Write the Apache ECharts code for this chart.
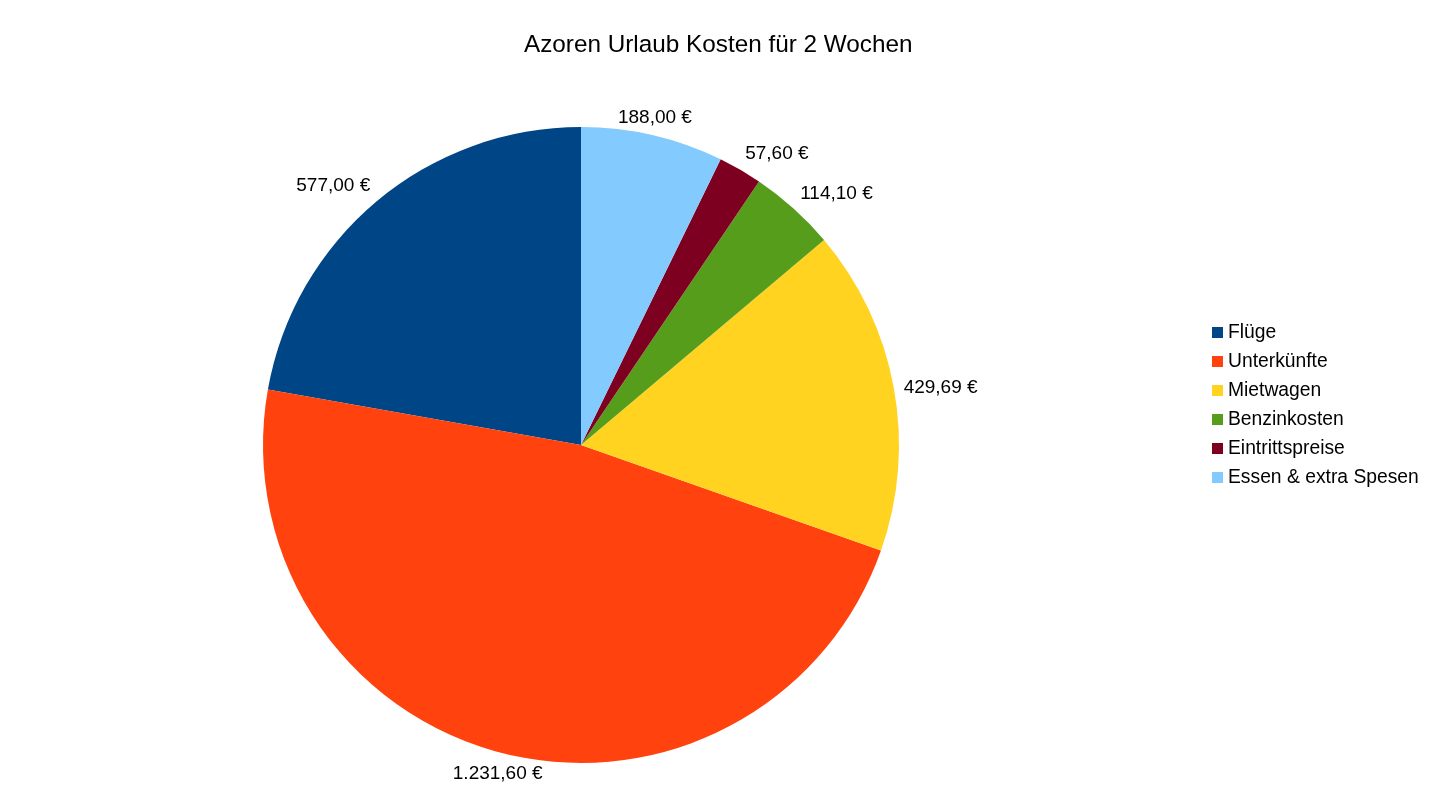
<!DOCTYPE html>
<html>
<head>
<meta charset="utf-8">
<script src="https://cdn.jsdelivr.net/npm/echarts@6/dist/echarts.min.js"></script>
<style>
html,body{margin:0;padding:0;background:#fff;}
#chart{width:1445px;height:810px;}
</style>
</head>
<body>
<div id="chart"></div>
<script>
var titleText = 'Azoren Urlaub Kosten für 2 Wochen';
var categories = ['Flüge', 'Unterkünfte', 'Mietwagen', 'Benzinkosten', 'Eintrittspreise', 'Essen & extra Spesen'];
var values = [577.00, 1231.60, 429.69, 114.10, 57.60, 188.00];
var colors = ['#004586', '#ff420e', '#ffd320', '#579d1c', '#7e0021', '#83caff'];

function fmtEuro(v) {
  var parts = v.toFixed(2).split('.');
  var intPart = parts[0].replace(/\B(?=(\d{3})+(?!\d))/g, '.');
  return intPart + ',' + parts[1] + ' €';
}

var FONT = '"Liberation Sans", Arial, sans-serif';
var chart = echarts.init(document.getElementById('chart'), null, {renderer: 'canvas'});
chart.setOption({
  animation: false,
  backgroundColor: '#ffffff',
  title: {
    text: titleText,
    left: 524,
    top: 33,
    padding: 0,
    textStyle: {fontFamily: FONT, fontSize: 24.3, fontWeight: 'normal', color: '#000'}
  },
  legend: {
    orient: 'vertical',
    left: 1212,
    top: 323,
    padding: 0,
    itemWidth: 11,
    itemHeight: 11,
    itemGap: 10,
    icon: 'rect',
    textStyle: {fontFamily: FONT, fontSize: 19.3, color: '#000', padding: [0, 0, 0, 0]},
    data: categories
  },
  series: [{
    type: 'pie',
    center: [581, 445],
    radius: [0, 318],
    startAngle: 90,
    clockwise: false,
    avoidLabelOverlap: false,
    color: colors,
    itemStyle: {borderWidth: 0},
    emphasis: {disabled: true},
    label: {
      show: true,
      position: 'outside',
      fontFamily: FONT,
      fontSize: 19,
      color: '#000',
      formatter: function (p) { return fmtEuro(p.value); }
    },
    labelLine: {show: true, length: 10, length2: 0, lineStyle: {opacity: 0, width: 0}},
    labelLayout: function (p) {
      var pts = p.labelLinePoints;
      if (!pts || pts.length < 2) return {};
      var x0 = pts[0][0], y0 = pts[0][1];
      var dx = pts[1][0] - x0, dy = pts[1][1] - y0;
      var len = Math.sqrt(dx * dx + dy * dy) || 1;
      dx /= len; dy /= len;
      var gap = 10;
      return {
        x: x0 + dx * gap,
        y: y0 + dy * gap + 2,
        align: Math.abs(dx) < 0.38 ? 'center' : (dx > 0 ? 'left' : 'right'),
        verticalAlign: Math.abs(dy) < 0.38 ? 'middle' : (dy > 0 ? 'top' : 'bottom')
      };
    },
    data: categories.map(function (c, i) { return {name: c, value: values[i]}; })
  }]
});
</script>
</body>
</html>
